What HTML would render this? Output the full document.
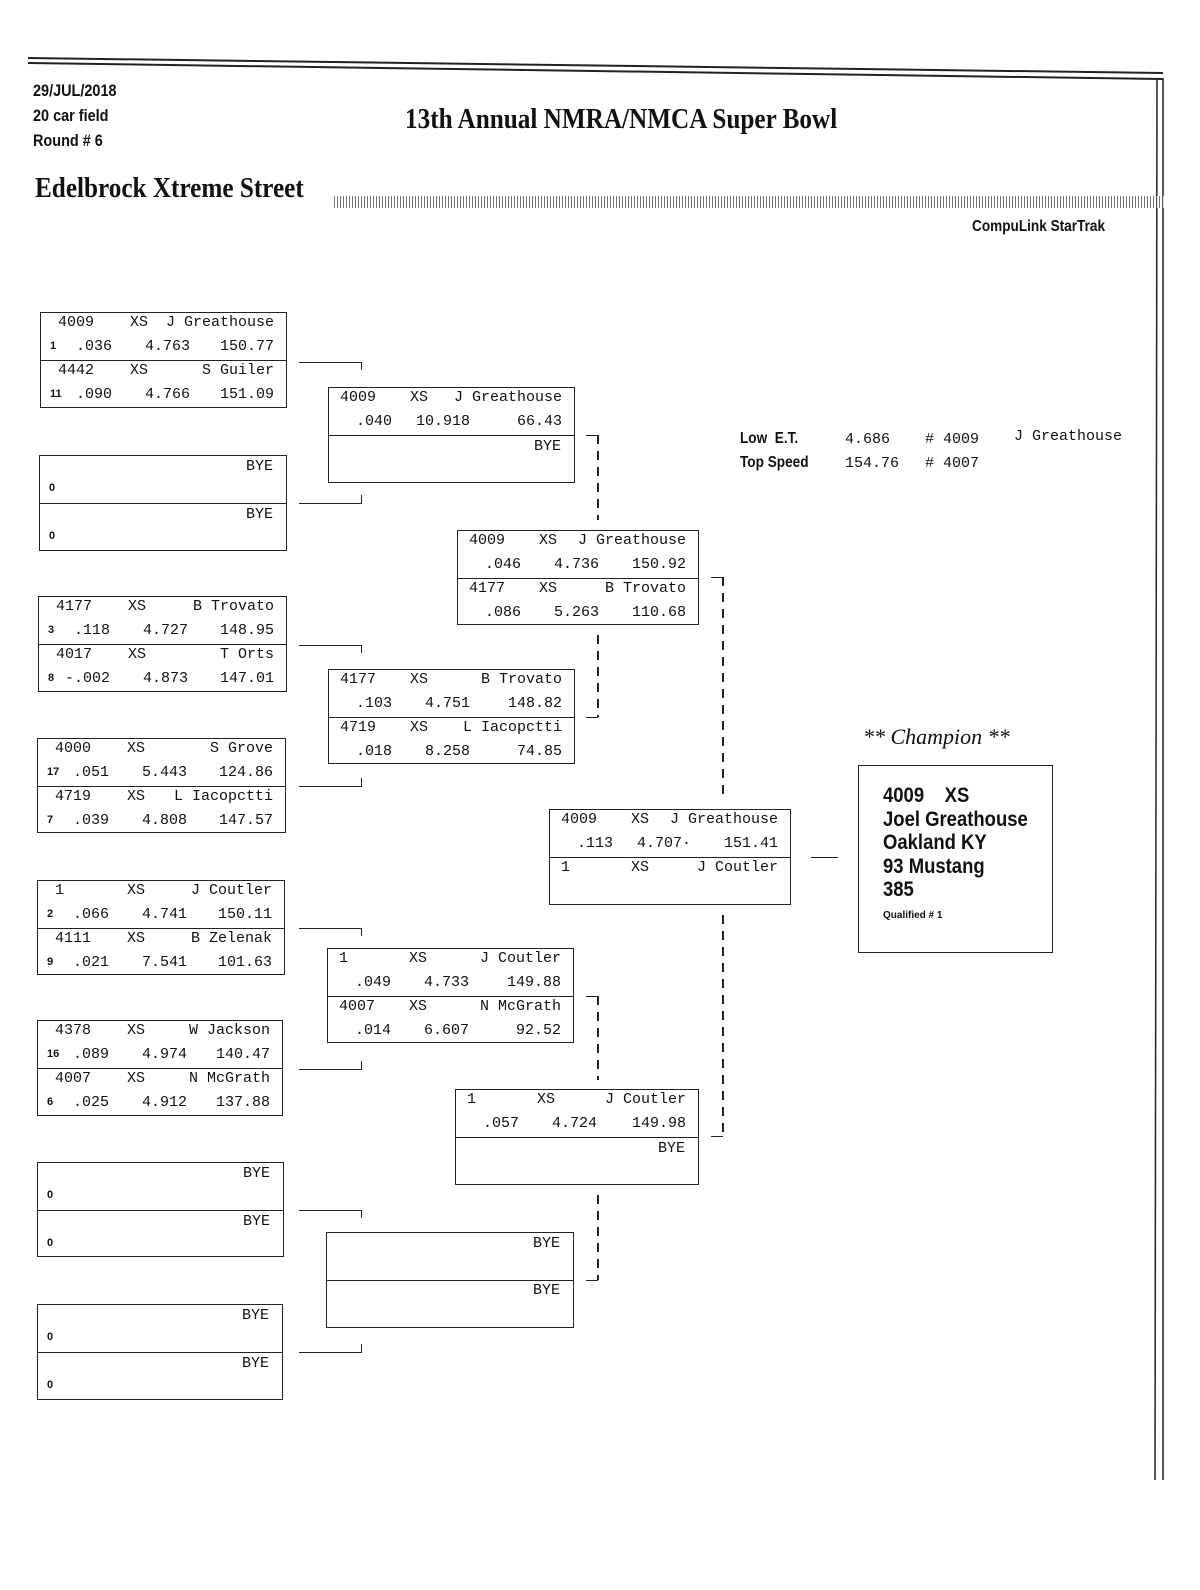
<!DOCTYPE html>
<html style="overflow:hidden"><head><meta charset="utf-8"><style>
html,body{margin:0;padding:0}
body{background:#fff;width:1200px;height:1590px;position:relative;overflow:hidden;color:#111}
.a{position:absolute;white-space:nowrap}
.m{font-family:"Liberation Mono",monospace;font-size:15px;line-height:18px}
.box{position:absolute;border:1.5px solid #222;box-sizing:border-box}
.hl{position:absolute;border-top:1.5px solid #222}
.vl{position:absolute;border-left:1.5px solid #222}
.dl{position:absolute;width:1.5px;background:repeating-linear-gradient(180deg,#222 0 9px,transparent 9px 16px)}
.s{font-family:"Liberation Sans",sans-serif;font-weight:bold}
</style></head><body>
<svg class="a" style="left:0;top:0" width="1200" height="1590">
<line x1="28" y1="58" x2="1163" y2="73" stroke="#222" stroke-width="2"/>
<line x1="28" y1="63" x2="1163" y2="79" stroke="#222" stroke-width="2"/>
<line x1="1157" y1="78" x2="1155" y2="1480" stroke="#222" stroke-width="1.5"/>
<line x1="1163" y1="78" x2="1163" y2="1480" stroke="#222" stroke-width="1.5"/>
</svg>
<div class="a s" style="left:33px;top:78px;font-size:17px;line-height:25px;transform:scaleX(.85);transform-origin:left">29/JUL/2018<br>20 car field<br>Round # 6</div>
<div class="a" style="left:405px;top:104px;font-family:'Liberation Serif',serif;font-weight:bold;font-size:28px;transform:scaleX(.9);transform-origin:left">13th Annual NMRA/NMCA Super Bowl</div>
<div class="a" style="left:35px;top:173px;font-family:'Liberation Serif',serif;font-weight:bold;font-size:28px;transform:scaleX(.9);transform-origin:left">Edelbrock Xtreme Street</div>
<div class="a" style="left:334px;top:196px;width:830px;height:12px;background:repeating-linear-gradient(90deg,#555 0 1px,#fff 1px 3px),#fff;opacity:.8"></div>
<div class="a s" style="left:972px;top:218px;font-size:16px;transform:scaleX(.85);transform-origin:left">CompuLink StarTrak</div>
<div class="a s" style="left:740px;top:427px;font-size:16px;line-height:24px;transform:scaleX(.85);transform-origin:left">Low&nbsp; E.T.<br>Top Speed</div>
<div class="a m" style="left:845px;top:428px;line-height:24px">4.686<br>154.76</div>
<div class="a m" style="left:925px;top:428px;line-height:24px"># 4009<br># 4007</div>
<div class="a m" style="left:1014px;top:428px">J Greathouse</div>
<div class="a" style="left:863px;top:724px;font-family:'Liberation Serif',serif;font-style:italic;font-size:22px">** Champion **</div>
<div class="box" style="left:858px;top:765px;width:195px;height:188px"></div>
<div class="a s" style="left:883px;top:784px;font-size:21px;line-height:23.5px;transform:scaleX(.88);transform-origin:left">4009 &nbsp;&nbsp; XS<br>Joel Greathouse<br>Oakland KY<br>93 Mustang<br>385</div>
<div class="a s" style="left:883px;top:910px;font-size:10px">Qualified # 1</div>
<div id="c"></div>
<script>
const c=document.getElementById('c');
function t(x,y,s,al){const d=document.createElement('div');d.className='a m';d.textContent=s;d.style.top=(y-9)+'px';if(al==='r'){d.style.left=(x-300)+'px';d.style.width='300px';d.style.textAlign='right';}else d.style.left=x+'px';c.appendChild(d);}
function sm(x,y,s){const d=document.createElement('div');d.className='a s';d.style.fontSize='11px';d.style.left=x+'px';d.style.top=(y-7)+'px';d.textContent=s;c.appendChild(d);}
function box(x,y,w,h,e1,e2,r1){
 const b=document.createElement('div');b.className='box';Object.assign(b.style,{left:x+'px',top:y+'px',width:w+'px',height:h+'px'});c.appendChild(b);
 const l=document.createElement('div');l.className='hl';Object.assign(l.style,{left:x+'px',top:(y+h/2)+'px',width:w+'px'});c.appendChild(l);
 [e1,e2].forEach((e,i)=>{const ty=y+i*h/2;if(!e||!(e.bye||e[0]))return;
  if(e.bye){t(x+w-14,ty+12,'BYE','r');if(r1)sm(x+10,ty+34,'0');return;}
  t(x+(r1?18:12),ty+11,e[0]);t(x+(r1?90:82),ty+11,'XS');t(x+w-13,ty+11,e[1],'r');
  if(r1&&e[2])sm(x+10,ty+35,e[2]);
  if(e[3])t(x+(r1?72:64),ty+35,e[3],'r');if(e[4])t(x+(r1?150:142),ty+35,e[4],'r');if(e[5])t(x+w-13,ty+35,e[5],'r');
 });}
const B={bye:1};
box(40,312,247,96,['4009','J Greathouse','1','.036','4.763','150.77'],['4442','S Guiler','11','.090','4.766','151.09'],1);
box(39,455,248,96,B,B,1);
box(38,596,249,96,['4177','B Trovato','3','.118','4.727','148.95'],['4017','T Orts','8','-.002','4.873','147.01'],1);
box(37,738,249,95,['4000','S Grove','17','.051','5.443','124.86'],['4719','L Iacopctti','7','.039','4.808','147.57'],1);
box(37,880,248,95,['1','J Coutler','2','.066','4.741','150.11'],['4111','B Zelenak','9','.021','7.541','101.63'],1);
box(37,1020,246,96,['4378','W Jackson','16','.089','4.974','140.47'],['4007','N McGrath','6','.025','4.912','137.88'],1);
box(37,1162,247,95,B,B,1);
box(37,1304,246,96,B,B,1);
box(328,387,247,96,['4009','J Greathouse','','.040','10.918','66.43'],B,0);
box(328,669,247,95,['4177','B Trovato','','.103','4.751','148.82'],['4719','L Iacopctti','','.018','8.258','74.85'],0);
box(327,948,247,95,['1','J Coutler','','.049','4.733','149.88'],['4007','N McGrath','','.014','6.607','92.52'],0);
box(326,1232,248,96,{},{},0);t(560,1244,'BYE','r');t(560,1291,'BYE','r');
box(457,530,242,95,['4009','J Greathouse','','.046','4.736','150.92'],['4177','B Trovato','','.086','5.263','110.68'],0);
box(455,1089,244,96,['1','J Coutler','','.057','4.724','149.98'],B,0);
box(549,809,242,96,['4009','J Greathouse','','.113','4.707·','151.41'],['1','J Coutler'],0);
function h(x1,x2,y){const d=document.createElement('div');d.className='hl';Object.assign(d.style,{left:x1+'px',top:y+'px',width:(x2-x1)+'px'});c.appendChild(d);}
function v(x,y1,y2,dash){const d=document.createElement('div');d.className=dash?'dl':'vl';Object.assign(d.style,{left:x+'px',top:y1+'px',height:(y2-y1)+'px'});c.appendChild(d);}
[[362,370],[503,495],[645,653],[786,778],[928,936],[1069,1061],[1210,1218],[1352,1344]].forEach(([y,e])=>{h(299,362,y);v(361,Math.min(y,e),Math.max(y,e));});
[[435,520],[717,635],[996,1080],[1280,1195]].forEach(([y,e])=>{h(586,598,y);v(597,Math.min(y,e),Math.max(y,e),1);});
h(711,723,577);v(722,577,795,1);h(711,723,1136);v(722,915,1136,1);
h(811,838,857);
</script>
</body></html>
